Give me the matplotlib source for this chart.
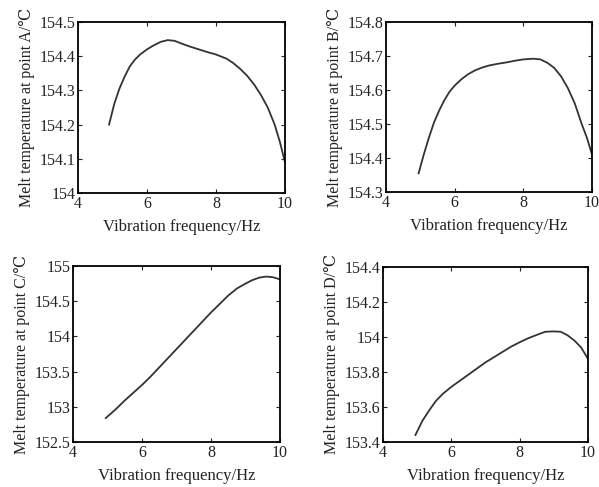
import matplotlib
matplotlib.use('Agg')
import matplotlib.pyplot as plt

plt.rcParams['font.family'] = ['Liberation Serif', 'DejaVu Serif']
plt.rcParams['font.size'] = 11.5

# frequency / melt temperature
freq_a = [4.9, 5.05, 5.2, 5.35, 5.5, 5.65, 5.8, 6.0, 6.2, 6.4, 6.6, 6.8, 7.0, 7.25, 7.5, 7.75,
          8.0, 8.3, 8.5, 8.7, 8.9, 9.1, 9.3, 9.5, 9.7, 9.85, 10.0]
temp_a = [154.20, 154.26, 154.305, 154.34, 154.37, 154.39, 154.405, 154.42, 154.432, 154.442,
          154.447, 154.445, 154.437, 154.428, 154.42, 154.412, 154.405, 154.393, 154.38, 154.363,
          154.343, 154.318, 154.287, 154.25, 154.2, 154.15, 154.09]

freq_b = [4.95, 5.1, 5.25, 5.4, 5.55, 5.7, 5.85, 6.0, 6.2, 6.4, 6.6, 6.8, 7.0, 7.25, 7.5, 7.75,
          8.0, 8.3, 8.5, 8.7, 8.9, 9.1, 9.3, 9.5, 9.7, 9.85, 10.0]
temp_b = [154.355, 154.41, 154.46, 154.505, 154.54, 154.57, 154.595, 154.613, 154.632, 154.647,
          154.658, 154.666, 154.672, 154.677, 154.681, 154.686, 154.69, 154.692, 154.69, 154.68,
          154.665, 154.64, 154.605, 154.56, 154.5, 154.46, 154.41]

freq_c = [4.95, 5.25, 5.5, 5.75, 6.0, 6.25, 6.5, 6.75, 7.0, 7.25, 7.5, 7.75, 8.0, 8.25, 8.5,
          8.75, 9.0, 9.2, 9.4, 9.6, 9.8, 10.0]
temp_c = [152.84, 152.97, 153.09, 153.2, 153.31, 153.43, 153.56, 153.69, 153.82, 153.95,
          154.08, 154.21, 154.34, 154.46, 154.58, 154.68, 154.75, 154.8, 154.835, 154.85,
          154.84, 154.81]

freq_d = [4.95, 5.15, 5.35, 5.55, 5.75, 6.0, 6.25, 6.5, 6.75, 7.0, 7.25, 7.5, 7.75, 8.0, 8.25,
          8.5, 8.75, 9.0, 9.2, 9.4, 9.6, 9.8, 10.0]
temp_d = [153.44, 153.52, 153.58, 153.635, 153.675, 153.715, 153.75, 153.785, 153.82, 153.855,
          153.885, 153.915, 153.945, 153.97, 153.993, 154.012, 154.03, 154.032, 154.03, 154.01,
          153.98, 153.94, 153.875]

panels = [
    (freq_a, temp_a, 'A', (154, 154.5), [154, 154.1, 154.2, 154.3, 154.4, 154.5],
     ['154', '154.1', '154.2', '154.3', '154.4', '154.5'], (78, 22, 285, 193)),
    (freq_b, temp_b, 'B', (154.3, 154.8), [154.3, 154.4, 154.5, 154.6, 154.7, 154.8],
     ['154.3', '154.4', '154.5', '154.6', '154.7', '154.8'], (386, 22, 592, 192)),
    (freq_c, temp_c, 'C', (152.5, 155), [152.5, 153, 153.5, 154, 154.5, 155],
     ['152.5', '153', '153.5', '154', '154.5', '155'], (73, 266, 280, 442)),
    (freq_d, temp_d, 'D', (153.4, 154.4), [153.4, 153.6, 153.8, 154, 154.2, 154.4],
     ['153.4', '153.6', '153.8', '154', '154.2', '154.4'], (383, 267, 588, 442)),
]

W, H = 599, 487
fig = plt.figure(figsize=(W / 100, H / 100), dpi=100)

for fx, ty, name, ylim, yt, ytl, (l, t, r, b) in panels:
    ax = fig.add_axes([l / W, 1 - b / H, (r - l) / W, (b - t) / H])
    ax.plot(fx, ty, color='#333333', lw=1.3)
    ax.set_xlim(4, 10)
    ax.set_ylim(*ylim)
    ax.set_xticks([4, 6, 8, 10])
    ax.set_yticks(yt)
    ax.set_yticklabels(ytl)
    ax.tick_params(direction='in', top=True, right=True, length=3, labelsize=11.5,
                   colors='#222222', pad=2)
    for s in ax.spines.values():
        s.set_linewidth(1.3)
    ax.set_xlabel('Vibration frequency/Hz', fontsize=12, color='#222222', labelpad=5)
    ax.set_ylabel('Melt temperature at point %s/℃' % name, fontsize=11.5, color='#222222',
                  labelpad=3)

fig.savefig('out.png', dpi=100)
